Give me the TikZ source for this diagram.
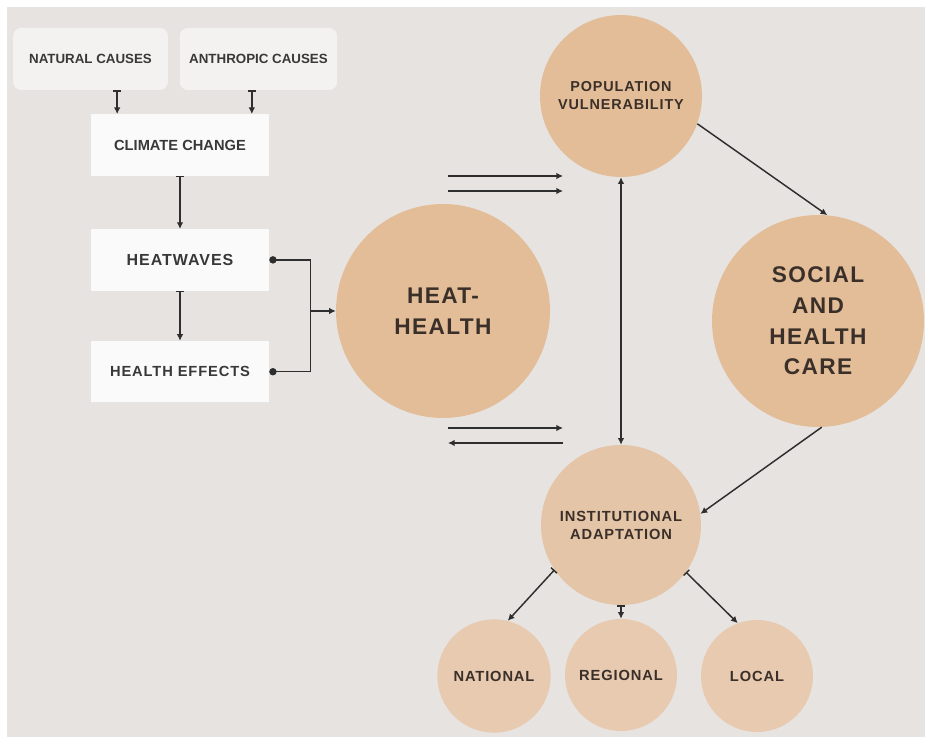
\documentclass[tikz,border=0pt]{standalone}
\usepackage{fontspec}
\setmainfont{Liberation Sans}
\newfontfamily\widefont[LetterSpace=6]{Liberation Sans}
\usetikzlibrary{arrows.meta,positioning}
\definecolor{PageGrey}{HTML}{E7E3E1}
\definecolor{BoxWhite}{HTML}{FAFAFA}
\definecolor{CauseGrey}{HTML}{F3F2F1}
\definecolor{Sand}{HTML}{E2BD98}
\definecolor{SandPale}{HTML}{E5C5A7}
\definecolor{SandLight}{HTML}{E7CAAF}
\definecolor{InkDark}{HTML}{3A2F29}
\definecolor{LineDark}{HTML}{2E2E2E}

\begin{document}
\begin{tikzpicture}[
    x=0.75pt, y=-0.75pt,
    cause/.style    = {rectangle, rounded corners=6pt, fill=CauseGrey,
                       minimum width=116pt, minimum height=46.5pt,
                       font=\bfseries\fontsize{10}{12}\selectfont,
                       text=black!78},
    stagebox/.style = {rectangle, fill=BoxWhite,
                       minimum width=133.5pt, minimum height=46pt,
                       text=black!78},
    bigdisc/.style  = {circle, fill=Sand, inner sep=0pt, align=center,
                       text=InkDark,
                       font=\widefont\bfseries\fontsize{17}{23}\selectfont},
    disc/.style     = {circle, fill=Sand, inner sep=0pt, align=center,
                       text=InkDark,
                       font=\widefont\bfseries\fontsize{10.8}{13.5}\selectfont},
    feed/.style     = {draw=LineDark, line width=1.1pt,
                       {Bar[width=6pt]}-{Latex[length=5pt,width=5pt]}},
    arr/.style      = {draw=LineDark, line width=1.1pt,
                       -{Latex[length=5pt,width=5pt]}},
    both/.style     = {draw=LineDark, line width=1.1pt,
                       {Latex[length=5pt,width=5pt]}-{Latex[length=5pt,width=5pt]}},
    fork/.style     = {draw=LineDark, line width=1.1pt,
                       {Circle[length=5.5pt]}-{Circle[length=5.5pt]}},
]

% --- page ---------------------------------------------------------------
\fill[white] (0,0) rectangle (925,737);
\fill[PageGrey] (7,7) rectangle (925,737);
\useasboundingbox (0,0) rectangle (925,737);

% --- causal chain ---------------------------------------------------------
\node[cause] (natural) at (90.5,59) {NATURAL CAUSES};
\node[cause, minimum width=118pt] (anthropic) at (258.5,59) {ANTHROPIC CAUSES};

\node[stagebox, font=\bfseries\fontsize{11}{13}\selectfont] (climate)
    at (180,145) {CLIMATE CHANGE};
\draw[feed] ([xshift=20pt]natural.south) -- ([xshift=20pt]natural.south |- climate.north);
\draw[feed] ([xshift=-5pt]anthropic.south) -- ([xshift=-5pt]anthropic.south |- climate.north);

\node[stagebox, below=39.75pt of climate,
      font=\widefont\bfseries\fontsize{12}{14}\selectfont] (heatwaves)
    {HEATWAVES};
\draw[feed] (climate) -- (heatwaves);

\node[stagebox, below=37.5pt of heatwaves,
      font=\widefont\bfseries\fontsize{11}{13}\selectfont] (effects)
    {HEALTH EFFECTS};
\draw[feed] (heatwaves) -- (effects);

% --- heat-health hub ------------------------------------------------------
\node[bigdisc, minimum size=160.5pt] (heat) at (443,311) {HEAT-\\HEALTH};

\draw[fork] (heatwaves.east) -- ++(41,0) coordinate (join) |- (effects.east);
\draw[arr] (join |- heat.west) -- (heat.west);

% flows towards the right-hand side
\coordinate (topA) at (448,176);  \coordinate (topA') at (563,176);
\coordinate (topB) at (448,191);  \coordinate (topB') at (563,191);
\coordinate (lowA) at (448,428);  \coordinate (lowA') at (563,428);
\coordinate (lowB) at (448,443);  \coordinate (lowB') at (563,443);
\draw[arr] (topA) -- (topA');
\draw[arr] (topB) -- (topB');
\draw[arr] (lowA) -- (lowA');
\draw[arr] (lowB') -- (lowB);

% --- vulnerability, care and adaptation -----------------------------------
\node[disc, minimum size=121.5pt] (pop) at (621,96) {POPULATION\\VULNERABILITY};
\node[bigdisc, minimum size=159pt] (social) at (818,321) {SOCIAL\\AND\\HEALTH\\CARE};
\node[disc, fill=SandPale, minimum size=120pt,
      font=\widefont\bfseries\fontsize{11}{13.5}\selectfont] (inst)
    at (621,525) {INSTITUTIONAL\\ADAPTATION};

\draw[arr] (pop.-20) -- (social.85);
\draw[both] (pop) -- (inst);
\draw[arr] (social.-88) -- (inst.8);

% --- levels of adaptation -------------------------------------------------
\node[disc, fill=SandLight, minimum size=85pt,
      font=\widefont\bfseries\fontsize{11}{13}\selectfont] (national)
    at (494,676) {NATIONAL};
\node[disc, fill=SandLight, minimum size=84pt,
      font=\widefont\bfseries\fontsize{11}{13}\selectfont] (regional)
    at (621,675) {REGIONAL};
\node[disc, fill=SandLight, minimum size=84pt,
      font=\widefont\bfseries\fontsize{11}{13}\selectfont] (local)
    at (757,676) {LOCAL};

\draw[feed] (inst.214) -- (national.76);
\draw[feed] (inst) -- (regional);
\draw[feed] (inst.-36) -- (local.110);

\end{tikzpicture}
\end{document}
